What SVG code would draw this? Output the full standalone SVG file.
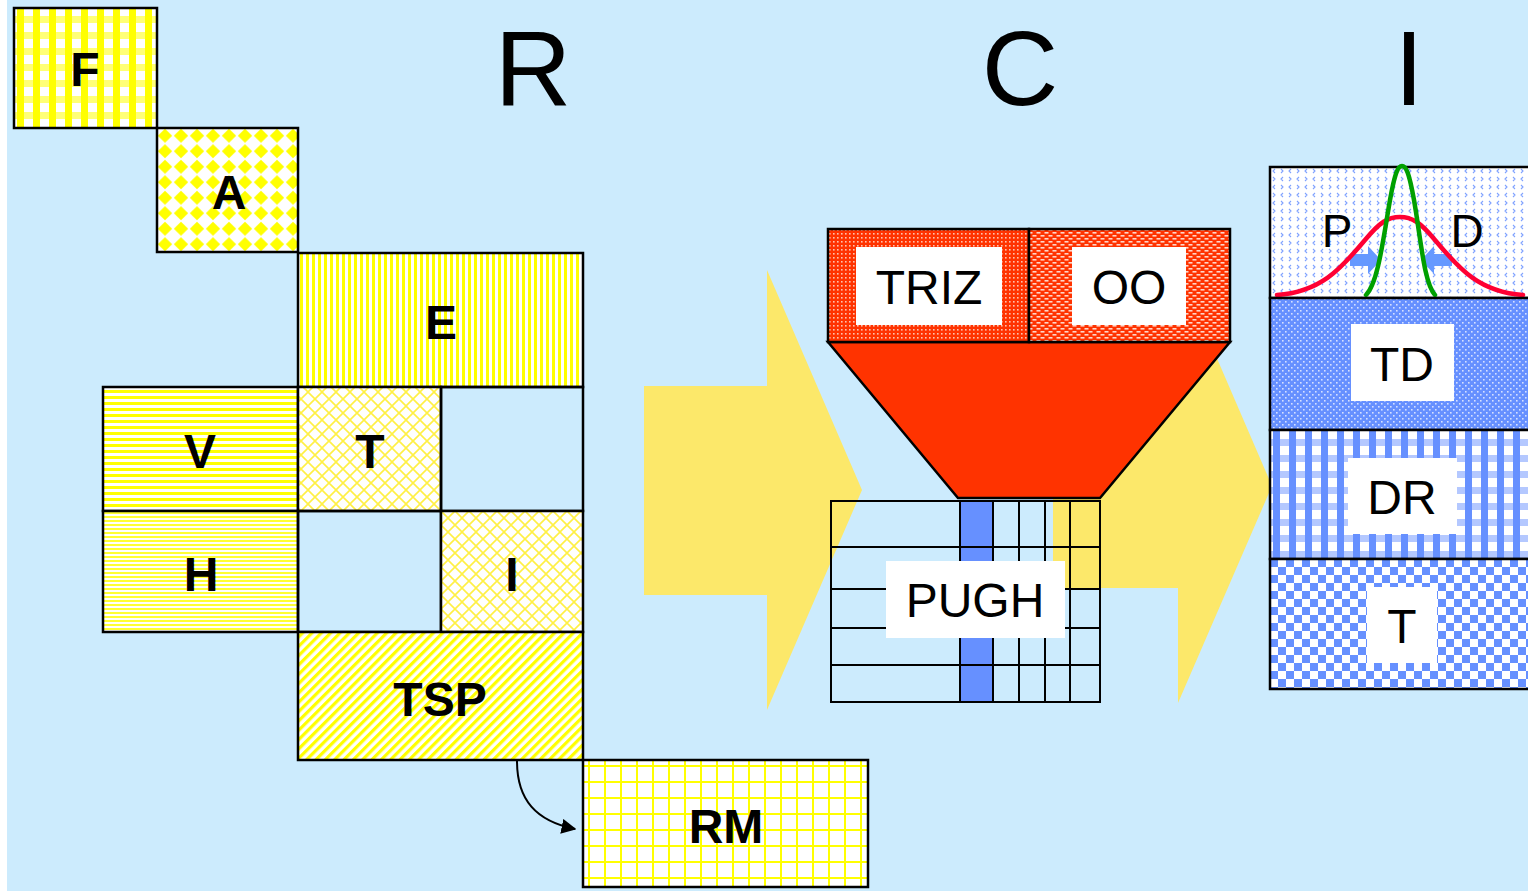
<svg xmlns="http://www.w3.org/2000/svg" width="1528" height="891" viewBox="0 0 1528 891">
<defs>
<style>
.box{stroke:#000;stroke-width:2.5}
.bl{font-family:"Liberation Sans",Arial,sans-serif;font-weight:bold;font-size:48px;text-anchor:middle;fill:#000}
.lb{font-family:"Liberation Sans",Arial,sans-serif;font-size:48px;text-anchor:middle;fill:#000}
.big{font-family:"Liberation Sans",Arial,sans-serif;font-size:106px;text-anchor:middle;fill:#000}
.grid{stroke:#000;stroke-width:2;fill:none}
.yarrow{fill:#FCE86A}
</style>
<pattern id="pF" width="16" height="16" patternUnits="userSpaceOnUse" x="14" y="8">
<rect width="16" height="16" fill="#fff"/>
<rect y="8" width="16" height="7" fill="#FFFF77"/>
<rect x="3" width="7" height="16" fill="#FFFF00"/>
</pattern>
<pattern id="pA" width="16" height="15.5" patternUnits="userSpaceOnUse" x="157" y="128">
<rect width="16" height="15.5" fill="#fff"/>
<polygon points="8,0.8 15.2,7.75 8,14.7 0.8,7.75" fill="#FFFF00"/>
</pattern>
<pattern id="pE" width="6" height="6" patternUnits="userSpaceOnUse">
<rect width="6" height="6" fill="#fff"/>
<rect width="3" height="6" fill="#FFFF00"/>
</pattern>
<pattern id="pV" width="6" height="6" patternUnits="userSpaceOnUse">
<rect width="6" height="6" fill="#fff"/>
<rect width="6" height="3" fill="#FFFF00"/>
</pattern>
<pattern id="pH" width="4" height="4" patternUnits="userSpaceOnUse">
<rect width="4" height="4" fill="#fff"/>
<rect width="4" height="2" fill="#FFFF33"/>
</pattern>
<pattern id="pX" width="14" height="14" patternUnits="userSpaceOnUse">
<rect width="14" height="14" fill="#fff"/>
<path d="M0,0 L14,14 M14,0 L0,14" stroke="#FFF044" stroke-width="1.6"/>
</pattern>
<pattern id="pTSP" width="6.6" height="6.6" patternUnits="userSpaceOnUse" patternTransform="rotate(45)">
<rect width="6.6" height="6.6" fill="#fff"/>
<rect width="3.2" height="6.6" fill="#FFFF00"/>
</pattern>
<pattern id="pRM" width="16" height="16" patternUnits="userSpaceOnUse" x="583" y="760">
<rect width="16" height="16" fill="#fff"/>
<rect x="5" width="2" height="16" fill="#FFFF00"/>
<rect y="5" width="16" height="2" fill="#FFFF00"/>
</pattern>
<pattern id="pTRIZ" width="4" height="4" patternUnits="userSpaceOnUse">
<rect width="4" height="4" fill="#FF3300"/>
<rect x="1" y="1" width="1.6" height="1.6" fill="#FFC2AE"/>
</pattern>
<pattern id="pOO" width="8" height="6" patternUnits="userSpaceOnUse">
<rect width="8" height="6" fill="#FF3300"/>
<rect x="0.5" y="1" width="4" height="1.6" fill="#FFD6C8"/>
<rect x="4.5" y="4" width="3.5" height="1.6" fill="#FFD6C8"/>
<rect x="0" y="4" width="0.5" height="1.6" fill="#FFD6C8"/>
</pattern>
<pattern id="pPD" width="16" height="16" patternUnits="userSpaceOnUse" x="1270" y="167">
<rect width="16" height="16" fill="#fff"/>
<path d="M5,2 L3,4 L5,6 M11,2 L13,4 L11,6 M3,10 L5,12 L3,14 M13,10 L11,12 L13,14" stroke="#7FA2FF" stroke-width="1.1" fill="none"/>
</pattern>
<pattern id="pTD" width="6" height="6" patternUnits="userSpaceOnUse">
<rect width="6" height="6" fill="#6690FF"/>
<rect x="1" y="1" width="1.6" height="1.6" fill="#D6E0FF"/>
<rect x="4" y="4" width="1.6" height="1.6" fill="#D6E0FF"/>
</pattern>
<pattern id="pDR" width="16" height="16" patternUnits="userSpaceOnUse" x="1270" y="431">
<rect width="16" height="16" fill="#fff"/>
<rect y="8" width="16" height="7" fill="#B4C8FF"/>
<rect x="3" width="7" height="16" fill="#6690FF"/>
</pattern>
<pattern id="pT" width="16" height="16" patternUnits="userSpaceOnUse" x="1270" y="559">
<rect width="16" height="16" fill="#fff"/>
<rect width="8" height="8" fill="#6690FF"/>
<rect x="8" y="8" width="8" height="8" fill="#6690FF"/>
</pattern>
<marker id="ah" viewBox="0 0 10 10" refX="9" refY="5" markerWidth="7.5" markerHeight="7.5" orient="auto" markerUnits="strokeWidth">
<path d="M0,0 L10,5 L0,10 z" fill="#000"/>
</marker>
</defs>

<rect width="1528" height="891" fill="#CCEBFD"/>
<rect width="7" height="891" fill="#fff"/>

<g id="flow-arrows">
<polygon class="yarrow" points="644,386 767,386 767,270 862,490 767,710 767,595 644,595"/>
<polygon class="yarrow" points="1053,383 1178,383 1178,268 1272,486 1178,703 1178,588 1053,588"/>
</g>

<g id="R-title"><text class="big" x="533" y="105">R</text></g>
<g id="C-title"><text class="big" x="1020" y="105">C</text></g>
<g id="I-title"><text class="big" x="1409" y="105">I</text></g>

<g id="node-F"><rect class="box" x="14" y="8" width="143" height="120" fill="url(#pF)"/><text class="bl" x="85" y="86">F</text></g>
<g id="node-A"><rect class="box" x="157" y="128" width="141" height="124" fill="url(#pA)"/><text class="bl" x="229" y="209">A</text></g>
<g id="node-E"><rect class="box" x="298" y="253" width="285" height="134" fill="url(#pE)"/><text class="bl" x="441" y="339">E</text></g>
<g id="node-V"><rect class="box" x="103" y="387" width="195" height="124" fill="url(#pV)"/><text class="bl" x="200" y="468">V</text></g>
<g id="node-T"><rect class="box" x="298" y="387" width="143" height="124" fill="url(#pX)"/><text class="bl" x="370" y="468">T</text></g>
<g id="cell-empty-1"><rect class="box" x="441" y="387" width="142" height="124" fill="none"/></g>
<g id="node-H"><rect class="box" x="103" y="511" width="195" height="121" fill="url(#pH)"/><text class="bl" x="201" y="591">H</text></g>
<g id="cell-empty-2"><rect class="box" x="298" y="511" width="143" height="121" fill="none"/></g>
<g id="node-I"><rect class="box" x="441" y="511" width="142" height="121" fill="url(#pX)"/><text class="bl" x="512" y="591">I</text></g>
<g id="node-TSP"><rect class="box" x="298" y="632" width="285" height="128" fill="url(#pTSP)"/><text class="bl" x="440" y="716">TSP</text></g>
<g id="node-RM"><rect class="box" x="583" y="760" width="285" height="127" fill="url(#pRM)"/><text class="bl" x="726" y="843">RM</text></g>

<g id="funnel">
<polygon class="box" points="828,342 1230,342 1100,498 958,498" fill="#FF3300"/>
<rect class="box" x="828" y="229" width="201" height="113" fill="url(#pTRIZ)"/>
<rect class="box" x="1029" y="229" width="201" height="113" fill="url(#pOO)"/>
<rect x="856" y="247" width="146" height="78" fill="#fff"/>
<text class="lb" x="929" y="304">TRIZ</text>
<rect x="1072" y="247" width="114" height="78" fill="#fff"/>
<text class="lb" x="1129" y="304">OO</text>
</g>

<g id="pugh">
<rect x="960" y="501" width="33" height="201" fill="#6690FF"/>
<rect class="grid" x="831" y="501" width="269" height="201"/>
<path class="grid" d="M831,547 H1100 M831,589 H1100 M831,628 H1100 M831,665 H1100 M960,501 V702 M993,501 V702 M1019,501 V702 M1045,501 V702 M1070,501 V702"/>
<rect x="886" y="561" width="179" height="77" fill="#fff"/>
<text class="lb" x="975" y="617">PUGH</text>
</g>

<g id="pd">
<rect class="box" x="1270" y="167" width="270" height="131" fill="url(#pPD)"/>
<path d="M1350,254 H1368 V246 L1381,260 L1368,274 V266 H1350 Z" fill="#6699FF"/>
<path d="M1452,254 H1434 V246 L1421,260 L1434,274 V266 H1452 Z" fill="#6699FF"/>
<path d="M1277,295 C1320,292 1340,270 1365,240 C1380,222 1388,217 1400,217 C1412,217 1420,222 1435,240 C1460,270 1480,292 1523,295" fill="none" stroke="#FF0033" stroke-width="4.5" stroke-linecap="round"/>
<path d="M1366,295 C1378,283 1383,240 1390,200 C1395,172 1398,166 1402,166 C1406,166 1409,172 1414,200 C1421,240 1424,283 1435,295" fill="none" stroke="#00A000" stroke-width="4.5" stroke-linecap="round"/>
<text class="lb" x="1337" y="247" style="font-size:46px">P</text>
<text class="lb" x="1467" y="247" style="font-size:46px">D</text>
</g>
<g id="td">
<rect class="box" x="1270" y="298" width="270" height="132" fill="url(#pTD)"/>
<rect x="1351" y="324" width="103" height="77" fill="#fff"/>
<text class="lb" x="1402" y="381">TD</text>
</g>
<g id="dr">
<rect class="box" x="1270" y="430" width="270" height="129" fill="url(#pDR)"/>
<rect x="1348" y="458" width="109" height="76" fill="#fff"/>
<text class="lb" x="1402" y="514">DR</text>
</g>
<g id="t-right">
<rect class="box" x="1270" y="559" width="270" height="130" fill="url(#pT)"/>
<rect x="1367" y="587" width="70" height="76" fill="#fff"/>
<text class="lb" x="1402" y="643">T</text>
</g>

<g id="connectors">
<path d="M517,761 C517,800 536,821 575,829" fill="none" stroke="#000" stroke-width="2" marker-end="url(#ah)"/>
</g>
</svg>
